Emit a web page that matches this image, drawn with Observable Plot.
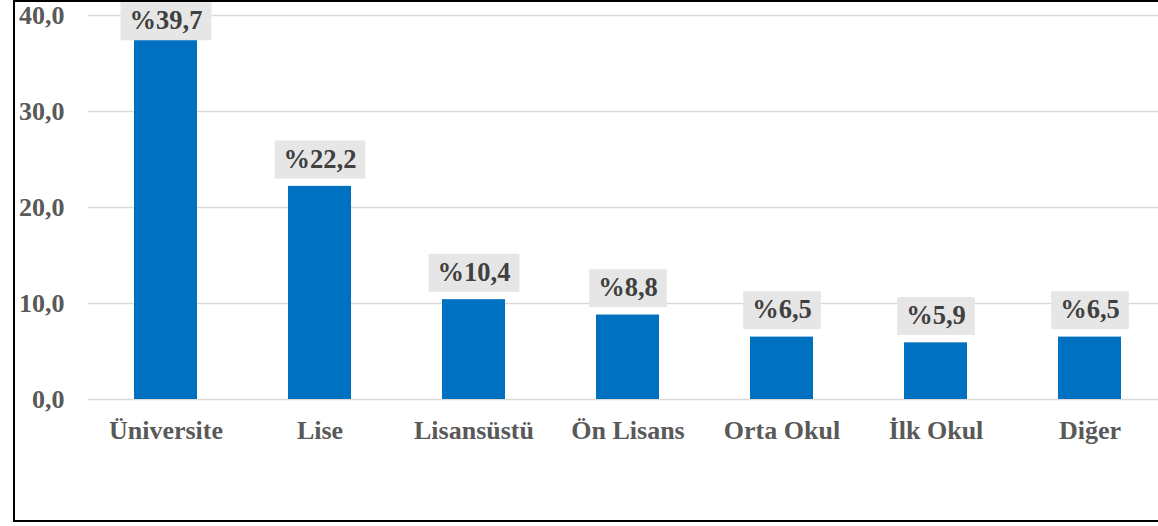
<!DOCTYPE html>
<html>
<head>
<meta charset="utf-8">
<script src="https://cdn.jsdelivr.net/npm/d3@7"></script>
<script src="https://cdn.jsdelivr.net/npm/@observablehq/plot@0.6"></script>
<style>
  html, body { margin: 0; padding: 0; background: #fff; width: 1158px; height: 526px; overflow: hidden; }
  #frame { position: absolute; left: 13px; top: 0; width: 1200px; height: 518px; border: 2px solid #000; box-sizing: content-box; }
  #chart { position: absolute; left: 0; top: 0; width: 1170px; }
</style>
</head>
<body>
<div id="frame"></div>
<div id="chart"></div>
<script>
const categories = ["Üniversite", "Lise", "Lisansüstü", "Ön Lisans", "Orta Okul", "İlk Okul", "Diğer"];
const values = [39.7, 22.2, 10.4, 8.8, 6.5, 5.9, 6.5];
const yTicks = [0, 10, 20, 30, 40];

const data = categories.map((c, i) => ({category: c, value: values[i], label: "%" + values[i].toFixed(1).replace(".", ",")}));
const fmt = d => d.toFixed(1).replace(".", ",");
const serif = "'Liberation Serif', 'Times New Roman', serif";

const chart = Plot.plot({
  width: 1170,
  height: 522,
  marginTop: 15,
  marginBottom: 123,
  marginLeft: 88,
  marginRight: 2,
  style: {fontFamily: serif, background: "transparent", overflow: "visible", maxWidth: "none"},
  x: {domain: categories, paddingInner: 0.59, paddingOuter: 0.295, label: null},
  y: {domain: [0, 40], ticks: yTicks, label: null},
  marks: [
    Plot.gridY(yTicks, {stroke: "#d9d9d9", strokeOpacity: 1, strokeWidth: 1.5}),
    Plot.axisY(yTicks, {tickSize: 0, tickPadding: 24, tickFormat: fmt, fontSize: 26, fontWeight: "bold", fill: "#595959", label: null}),
    Plot.axisX({tickSize: 0, tickPadding: 21, fontSize: 26, fontWeight: "bold", fill: "#595959", label: null}),
    Plot.barY(data, {x: "category", y: "value", fill: "#0070C0"}),
    Plot.text(data, {
      x: "category",
      y: d => Math.min(d.value + 2.85, 39.45),
      text: "label",
      fontSize: 26.5,
      fontWeight: "bold",
      fill: "#404040",
      lineAnchor: "middle",
      className: "barlabel"
    })
  ]
});
chart.style.maxWidth = "none";
document.getElementById("chart").appendChild(chart);

// Light grey boxes behind the value labels, sized from the rendered text
document.querySelectorAll("g.barlabel text").forEach(t => {
  const b = t.getBBox();
  const r = document.createElementNS("http://www.w3.org/2000/svg", "rect");
  const padX = 9, h = 38;
  r.setAttribute("x", b.x - padX);
  r.setAttribute("y", b.y + b.height / 2 - h / 2 + 1);
  r.setAttribute("width", b.width + 2 * padX);
  r.setAttribute("height", h);
  r.setAttribute("fill", "#e7e6e6");
  const tr = t.getAttribute("transform");
  if (tr) r.setAttribute("transform", tr);
  t.parentNode.insertBefore(r, t);
});
</script>
</body>
</html>
